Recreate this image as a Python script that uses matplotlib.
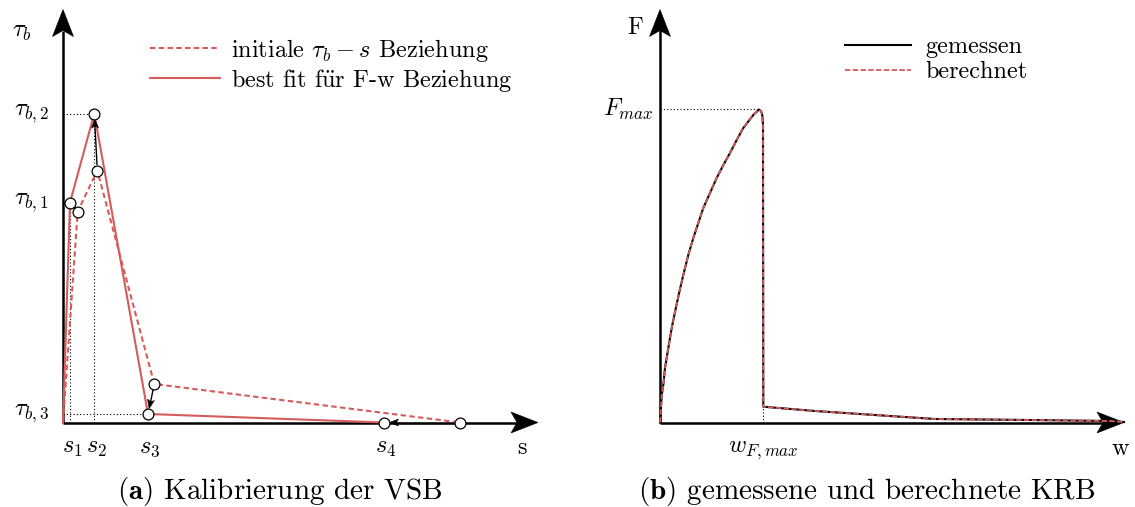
import numpy as np
import matplotlib.pyplot as plt
from matplotlib.patches import Polygon
from matplotlib.transforms import Affine2D

plt.rcParams["font.family"] = ["cmr10", "DejaVu Serif"]
plt.rcParams["mathtext.fontset"] = "cm"
plt.rcParams["axes.formatter.use_mathtext"] = True

RED = "#d65c5c"
FS = 17.5

# (a) Verbund-Schlupf-Beziehung: initial guess and calibrated fit
s_init   = [0.0, 1.47, 3.43, 9.13, 39.7]
tau_init = [0.0, 21.1, 25.2, 3.85, 0.0]
s_fit    = [0.0, 0.70, 3.13, 8.50, 32.1]
tau_fit  = [0.0, 22.0, 30.9, 0.85, 0.0]

s_ticks       = [0.70, 3.13, 8.50, 32.1]
s_tick_labels = [r"$s_1$", r"$s_2$", r"$s_3$", r"$s_4$"]
tau_ticks       = [22.0, 30.9, 0.85]
tau_tick_labels = [r"$\tau_{b,1}$", r"$\tau_{b,2}$", r"$\tau_{b,3}$"]

# (b) Kraft-Rissöffnungs-Beziehung
w_gem = [0.0, 0.010, 0.017, 0.033, 0.050, 0.083, 0.117, 0.150, 0.193, 0.233,
         0.283, 0.333, 0.383, 0.433, 0.500, 0.567, 0.633, 0.700, 0.767, 0.833,
         0.883, 0.933, 0.967, 0.990, 1.010, 1.023, 1.030, 1.033, 1.550, 2.150,
         2.750, 3.700, 4.500, 4.640]
F_gem = [0.0, 0.145, 0.275, 0.375, 0.545, 0.745, 0.945, 1.105, 1.305, 1.475,
         1.675, 1.845, 1.995, 2.145, 2.295, 2.445, 2.575, 2.695, 2.825, 2.945,
         3.010, 3.075, 3.108, 3.130, 3.115, 3.075, 2.975, 0.158, 0.115, 0.075,
         0.035, 0.025, 0.015, 0.005]
w_ber = list(w_gem)
F_ber = list(F_gem)
w_Fmax, F_max = 0.99, 3.13
w_knee, F_knee = 1.033, 0.158

fig = plt.figure(figsize=(11.35, 5.07), dpi=100)
axa = fig.add_axes([0.0, 0.0, 0.5, 1.0])
axb = fig.add_axes([0.5, 0.0, 0.5, 1.0])
axa.set_xlim(-6.3, 50.45)
axa.set_ylim(-8.45, 42.25)
axb.set_xlim(-0.925, 4.75)
axb.set_ylim(-0.845, 4.225)
for ax in (axa, axb):
    ax.set_axis_off()


def to_px(ax, p):
    return np.asarray(ax.transData.transform(p), dtype=float)


def to_data(ax, q):
    return ax.transData.inverted().transform(q)


def arrow(ax, start, end, lw, L, W, notch, shrink_a=0.0, shrink_b=0.0, z=4):
    """Line with a stealth-style head, sizes given in pixels."""
    p0, p1 = to_px(ax, start), to_px(ax, end)
    d = (p1 - p0) / np.hypot(*(p1 - p0))
    p0 = p0 + d * shrink_a
    p1 = p1 - d * shrink_b
    back = p1 - d * (L - notch)
    a, b = to_data(ax, p0), to_data(ax, back)
    ax.plot([a[0], b[0]], [a[1], b[1]], color="black", lw=lw,
            solid_capstyle="butt", zorder=z, clip_on=False)
    verts = [(0, 0), (-L, W / 2), (-L + notch, 0), (-L, -W / 2)]
    ang = np.degrees(np.arctan2(d[1], d[0]))
    tr = Affine2D().rotate_deg(ang).translate(*p1)
    ax.add_patch(Polygon(verts, closed=True, transform=tr, facecolor="black",
                         edgecolor="black", lw=0.4, clip_on=False, zorder=z))


def dotted(ax, xs, ys):
    ax.plot(xs, ys, color="black", lw=0.8, ls=(0, (1, 2)), zorder=1)


# ---------- (a) ----------
arrow(axa, (0, 0), (0, 41.3), 1.8, 27, 21, 6, z=2)
arrow(axa, (0, 0), (47.5, 0), 1.8, 27, 21, 6, z=2)

for x, y in zip(s_fit[1:4], tau_fit[1:4]):
    dotted(axa, [x, x], [0, y])
    dotted(axa, [0, x], [y, y])

axa.plot(s_init, tau_init, color=RED, lw=1.5, dashes=(2.6, 1.6), zorder=3,
         label=r"initiale $\tau_b - s$ Beziehung")
axa.plot(s_fit, tau_fit, color=RED, lw=1.5, zorder=3,
         label=r"best fit f$\ddot{\mathrm{u}}$r F-w Beziehung")

for i in range(1, 5):
    arrow(axa, (s_init[i], tau_init[i]), (s_fit[i], tau_fit[i]), 1.0, 9, 7, 2,
          shrink_a=5.5, shrink_b=5.5, z=4)

axa.plot(s_init[1:], tau_init[1:], "o", ms=7.8, mfc="white", mec="black",
         mew=0.9, zorder=5)
axa.plot(s_fit[1:], tau_fit[1:], "o", ms=7.8, mfc="white", mec="black",
         mew=0.9, zorder=5)

for x, lab in zip(s_ticks, s_tick_labels):
    axa.annotate(lab, (x, 0), xytext=(1.5, -18), textcoords="offset points",
                 ha="center", va="center", fontsize=FS)
for y, lab in zip(tau_ticks, tau_tick_labels):
    axa.annotate(lab, (0, y), xytext=(-10, 0), textcoords="offset points",
                 ha="right", va="center", fontsize=FS)
axa.annotate(r"$\tau_b$", (0, 41.3), xytext=(-37, -16),
             textcoords="offset points", ha="left", va="center", fontsize=FS)
axa.annotate("s", (47.5, 0), xytext=(-11.5, -18), textcoords="offset points",
             ha="center", va="center", fontsize=FS)

axa.legend(loc="upper left", bbox_to_anchor=(150 / 1135, 1 - 37 / 507),
           bbox_transform=fig.transFigure, frameon=False, fontsize=FS,
           handlelength=2.9, handletextpad=0.45, labelspacing=0.12,
           borderpad=0, borderaxespad=0)

# ---------- (b) ----------
arrow(axb, (0, 0), (0, 4.13), 1.8, 27, 21, 6, z=2)
arrow(axb, (0, 0), (4.64, 0), 1.8, 27, 21, 6, z=2)

dotted(axb, [0, w_Fmax], [F_max, F_max])
dotted(axb, [w_knee, w_knee], [0, F_knee])

axb.plot(w_gem, F_gem, color="black", lw=1.5, zorder=3, label="gemessen")
axb.plot(w_ber, F_ber, color=RED, lw=1.3, dashes=(3.0, 1.3), zorder=4,
         label="berechnet")

axb.annotate(r"$F_{max}$", (0, F_max), xytext=(-5, 0),
             textcoords="offset points", ha="right", va="center", fontsize=FS)
axb.annotate(r"$w_{F,max}$", (w_knee, 0), xytext=(0, -20),
             textcoords="offset points", ha="center", va="center", fontsize=FS)
axb.annotate("F", (0, 4.13), xytext=(-18, -13), textcoords="offset points",
             ha="center", va="center", fontsize=FS)
axb.annotate("w", (4.64, 0), xytext=(-3, -19), textcoords="offset points",
             ha="center", va="center", fontsize=FS)

axb.legend(loc="upper left", bbox_to_anchor=(845 / 1135, 1 - 36 / 507),
           bbox_transform=fig.transFigure, frameon=False, fontsize=FS,
           handlelength=2.7, handletextpad=0.6, labelspacing=0.12,
           borderpad=0, borderaxespad=0)

fig.text(280 / 1135, 1 - 491 / 507, r"$\mathbf{(a)}$ Kalibrierung der VSB",
         ha="center", va="center", fontsize=21)
fig.text(867 / 1135, 1 - 491 / 507, r"$\mathbf{(b)}$ gemessene und berechnete KRB",
         ha="center", va="center", fontsize=21)

fig.savefig("out.png", dpi=100)
